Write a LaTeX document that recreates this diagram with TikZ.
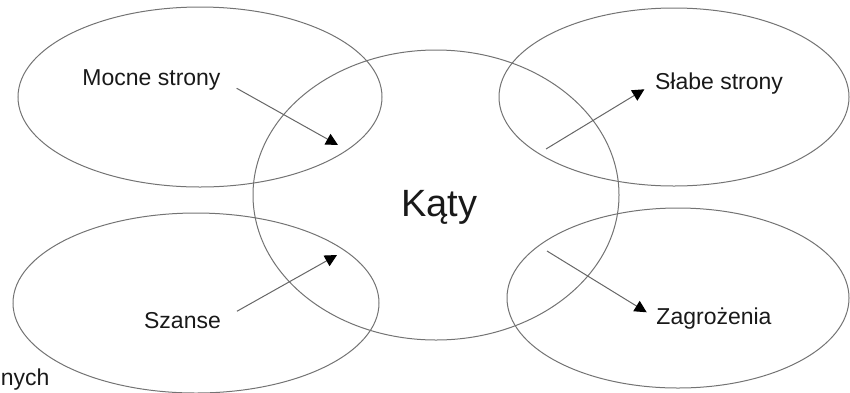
\documentclass[tikz,border=0pt]{standalone}
\usepackage{fontspec}
\setmainfont{Liberation Sans}
\usetikzlibrary{arrows.meta}

\tikzset{
  ring/.style={black!55, line width=0.5pt},
  label/.style={anchor=base, inner sep=0pt, text=black!90, font=\fontsize{11.5}{14}\selectfont},
  arr/.style={black!60, line width=0.5pt, -{Triangle[length=6pt, width=6pt, black]}}
}

\begin{document}
\begin{tikzpicture}[x=0.5pt, y=-0.5pt]
\useasboundingbox (0,0) rectangle (850,392);
\draw[ring] (200,97) ellipse [x radius=182, y radius=90];
\draw[ring] (674,97) ellipse [x radius=175, y radius=89];
\draw[ring] (436,195) ellipse [x radius=183, y radius=145];
\draw[ring] (196,303) ellipse [x radius=183, y radius=90];
\draw[ring] (678,298) ellipse [x radius=171, y radius=90];
\node[label] (mocne) at (151.5,85) {Mocne strony};
\node[label] (slabe) at (719,89) {Słabe strony};
\node[label] (szanse) at (182.5,328) {Szanse};
\node[label] (zagrozenia) at (714,324) {Zagrożenia};
\node[label, font=\fontsize{19}{22}\selectfont] (katy) at (439.5,216) {Kąty};
\node[label, anchor=base west] (nych) at (0.5,385) {nych};
\coordinate (t1) at (338,145);
\coordinate (s2) at (546,149);
\coordinate (t3) at (337,255);
\coordinate (s4) at (547,251);
\draw[arr, shorten <=9pt] (mocne.east) -- (t1);
\draw[arr, shorten >=6pt] (s2) -- (slabe.west);
\draw[arr, shorten <=9pt] (szanse.east) -- (t3);
\draw[arr, shorten >=5.5pt] (s4) -- (zagrozenia.west);
\end{tikzpicture}
\end{document}
